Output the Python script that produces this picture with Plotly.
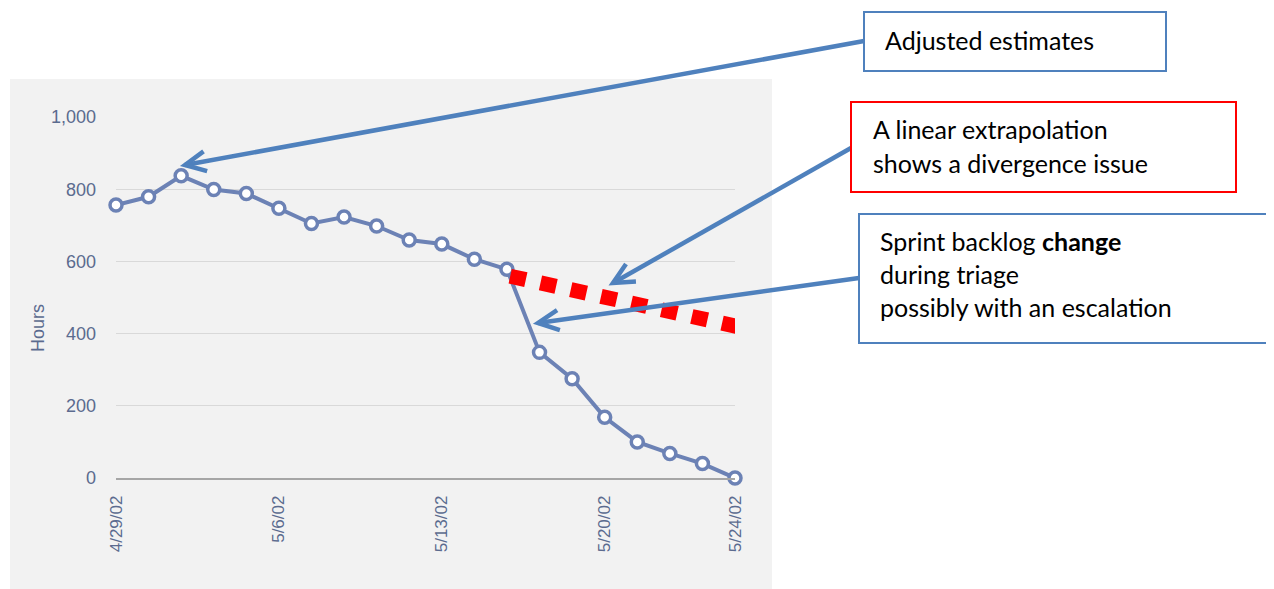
import math
import plotly.graph_objects as go

# ---------------- data ----------------
dates = ["4/29/02", "4/30/02", "5/1/02", "5/2/02", "5/3/02",
         "5/6/02", "5/7/02", "5/8/02", "5/9/02", "5/10/02",
         "5/13/02", "5/14/02", "5/15/02", "5/16/02", "5/17/02",
         "5/20/02", "5/21/02", "5/22/02", "5/23/02", "5/24/02"]
hours = [756, 779, 837, 799, 788, 747, 705, 723, 698, 659,
         648, 606, 578, 348, 275, 168, 100, 68, 40, 0]
tick_labels = ["4/29/02", "5/6/02", "5/13/02", "5/20/02", "5/24/02"]
y_ticks = [0, 200, 400, 600, 800, 1000]

# linear extrapolation (red dotted), in day-index / hours
extrap_x = [12.1, 19.35]
extrap_y = [559, 414]

x_idx = list(range(len(dates)))
tick_idx = [dates.index(t) for t in tick_labels]

# ---------------- layout geometry ----------------
OFF = 8                     # page body margin of the html page
W, H = 1274 - OFF, 589 - OFF
PL, PR, PT, PB = 116, 735, 117, 478  # plot area in page pixels


def px(x):
    return (x - PL) / (PR - PL)


def py(y):
    return (PB - y) / (PB - PT)


LINE_C = "#6c82b5"
TICK_C = "#5b6b8f"
BG_C = "#f2f2f2"
BLUE = "#4f81bd"
RED = "#ff0000"

fig = go.Figure()

fig.add_trace(go.Scatter(
    x=x_idx, y=hours, mode="lines+markers",
    line=dict(color=LINE_C, width=4),
    marker=dict(symbol="circle", size=12, color="white",
                line=dict(color=LINE_C, width=3.5)),
    cliponaxis=False, showlegend=False, hoverinfo="skip",
))

fig.add_trace(go.Scatter(
    x=extrap_x, y=extrap_y, mode="lines",
    line=dict(color=RED, width=15, dash="16px,15px"),
    cliponaxis=False, showlegend=False, hoverinfo="skip",
))

shapes = []
# grey chart background
shapes.append(dict(type="rect", xref="paper", yref="paper", layer="below",
                   x0=px(10), x1=px(772), y0=py(592), y1=py(79),
                   fillcolor=BG_C, line=dict(width=0)))

# arrows: (tail, tip) in pixels
arrows = [((864, 41), (185, 165)),
          ((851, 148), (613, 283)),
          ((859, 278), (538, 323))]
for (tx, ty), (hx, hy) in arrows:
    shapes.append(dict(type="line", xref="paper", yref="paper", layer="above",
                       x0=px(tx), y0=py(ty), x1=px(hx), y1=py(hy),
                       line=dict(color=BLUE, width=4.5)))
    dx, dy = tx - hx, ty - hy
    n = math.hypot(dx, dy)
    ux, uy = dx / n, dy / n
    pts = []
    for ang in (-26, 26):
        a = math.radians(ang)
        rx = ux * math.cos(a) - uy * math.sin(a)
        ry = ux * math.sin(a) + uy * math.cos(a)
        pts.append((hx + 23 * rx, hy + 23 * ry))
    path = "M {:.5f},{:.5f} L {:.5f},{:.5f} L {:.5f},{:.5f}".format(
        px(pts[0][0]), py(pts[0][1]), px(hx), py(hy), px(pts[1][0]), py(pts[1][1]))
    shapes.append(dict(type="path", xref="paper", yref="paper", layer="above",
                       path=path, line=dict(color=BLUE, width=4.5)))

# callout boxes
boxes = [((864, 12, 1166, 71), BLUE),
         ((851, 102, 1236, 192), RED),
         ((859, 214, 1268, 343), BLUE)]
for (x0, y0, x1, y1), c in boxes:
    shapes.append(dict(type="rect", xref="paper", yref="paper", layer="above",
                       x0=px(x0), x1=px(x1), y0=py(y1), y1=py(y0),
                       fillcolor="white", line=dict(color=c, width=2)))

TXT_FONT = dict(family="Lato, 'Open Sans', sans-serif", size=25, color="black")
texts = [("Adjusted estimates", 883, 40),
         ("A linear extrapolation", 871, 129),
         ("shows a divergence issue", 871, 163),
         ("Sprint backlog <b>change</b>", 878, 241),
         ("during triage", 878, 274),
         ("possibly with an escalation", 878, 307)]
annotations = []
for t, x, y in texts:
    annotations.append(dict(text=t, xref="paper", yref="paper", x=px(x), y=py(y),
                            xanchor="left", yanchor="middle", showarrow=False,
                            font=TXT_FONT))

annotations.append(dict(text="Hours", xref="paper", yref="paper", x=px(38), y=py(328),
                        xanchor="center", yanchor="middle", textangle=-90, showarrow=False,
                        font=dict(family="Liberation Sans, Arial, sans-serif", size=18,
                                  color=TICK_C)))

fig.update_layout(
    width=W, height=H,
    margin=dict(l=PL - OFF, r=W - (PR - OFF), t=PT - OFF, b=H - (PB - OFF), pad=0),
    paper_bgcolor="white", plot_bgcolor=BG_C,
    shapes=shapes, annotations=annotations,
    showlegend=False,
)

fig.update_xaxes(
    range=[0, len(dates) - 1], tickmode="array", tickvals=tick_idx, ticktext=tick_labels,
    tickangle=-90, showgrid=False, zeroline=False,
    showline=True, linecolor="#a6a6a6", linewidth=1.5,
    ticks="", ticklabelstandoff=9,
    tickfont=dict(family="Liberation Sans, Arial, sans-serif", size=17, color=TICK_C),
)
fig.update_yaxes(
    range=[0, 1000], tickmode="array", tickvals=y_ticks, tickformat=",",
    showgrid=True, gridcolor="#d9d9d9", gridwidth=1, zeroline=False,
    showline=False, ticks="", ticklabelstandoff=19,
    tickfont=dict(family="Liberation Sans, Arial, sans-serif", size=18, color=TICK_C),
)

fig.write_html("out.html")
